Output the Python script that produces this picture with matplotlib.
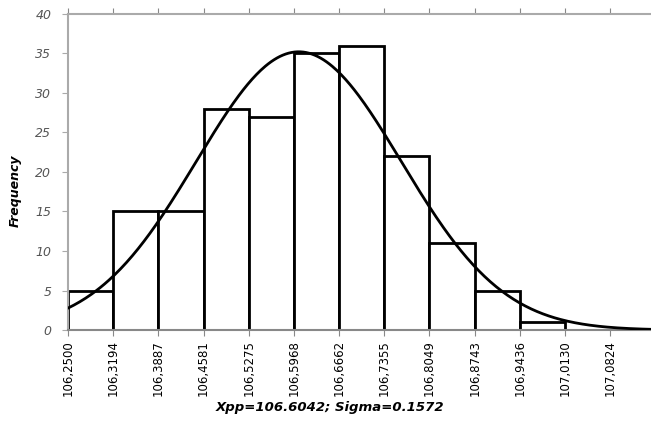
import numpy as np
import matplotlib
matplotlib.use('Agg')
import matplotlib.pyplot as plt

# 直方图数据
bin_edges = [106.2500, 106.3194, 106.3887, 106.4581, 106.5275, 106.5968,
             106.6662, 106.7355, 106.8049, 106.8743, 106.9436, 107.0130,
             107.0824]
counts = [5, 15, 15, 28, 27, 35, 36, 22, 11, 5, 1]
tick_labels = ['106,2500', '106,3194', '106,3887', '106,4581', '106,5275',
               '106,5968', '106,6662', '106,7355', '106,8049', '106,8743',
               '106,9436', '107,0130', '107,0824']
xpp = 106.6042
sigma = 0.1572

plt.rcParams['font.family'] = ['DejaVu Sans']

fig = plt.figure(figsize=(6.51, 4.21), dpi=100)
ax = fig.add_axes([0.1045, 0.216, 0.8955, 0.751])

edges = np.array(bin_edges[:len(counts) + 1])
widths = np.diff(edges)
ax.bar(edges[:-1], counts, width=widths, align='edge', facecolor='white',
       edgecolor='black', linewidth=2.0, zorder=2)

# 正态曲线
n = sum(counts)
bw = np.mean(widths)
xs = np.linspace(106.25, 107.145, 400)
ys = n * bw * np.exp(-0.5 * ((xs - xpp) / sigma) ** 2) / (sigma * np.sqrt(2 * np.pi))
ax.plot(xs, ys, color='black', linewidth=2.0, zorder=3)

ax.set_xlim(106.25, 107.145)
ax.set_ylim(0, 40)
ax.set_xticks(bin_edges)
ax.set_xticklabels(tick_labels, rotation=90, fontsize=8.5)
ax.set_yticks(range(0, 41, 5))
ax.set_yticklabels([str(v) for v in range(0, 41, 5)], fontsize=9,
                   style='italic', color='#555555')

for s in ['left', 'top']:
    ax.spines[s].set_color('#aaaaaa')
    ax.spines[s].set_linewidth(1.5)
ax.spines['right'].set_visible(False)
ax.spines['bottom'].set_color('#888888')
ax.spines['bottom'].set_linewidth(1.5)
ax.tick_params(axis='y', color='#aaaaaa', length=4, pad=8)
ax.tick_params(axis='x', color='#888888', length=4, pad=3)

# 顶部刻度
ax.tick_params(axis='x', top=True, labeltop=False)

ax.set_ylabel('Frequency', fontsize=9, fontweight='bold', style='italic')
ax.yaxis.set_label_coords(-0.08, 0.44)
ax.set_xlabel('Xpp=106.6042; Sigma=0.1572', fontsize=9.5, fontweight='bold',
              style='italic')
ax.xaxis.set_label_coords(0.45, -0.225)

plt.savefig('out.png', dpi=100)
